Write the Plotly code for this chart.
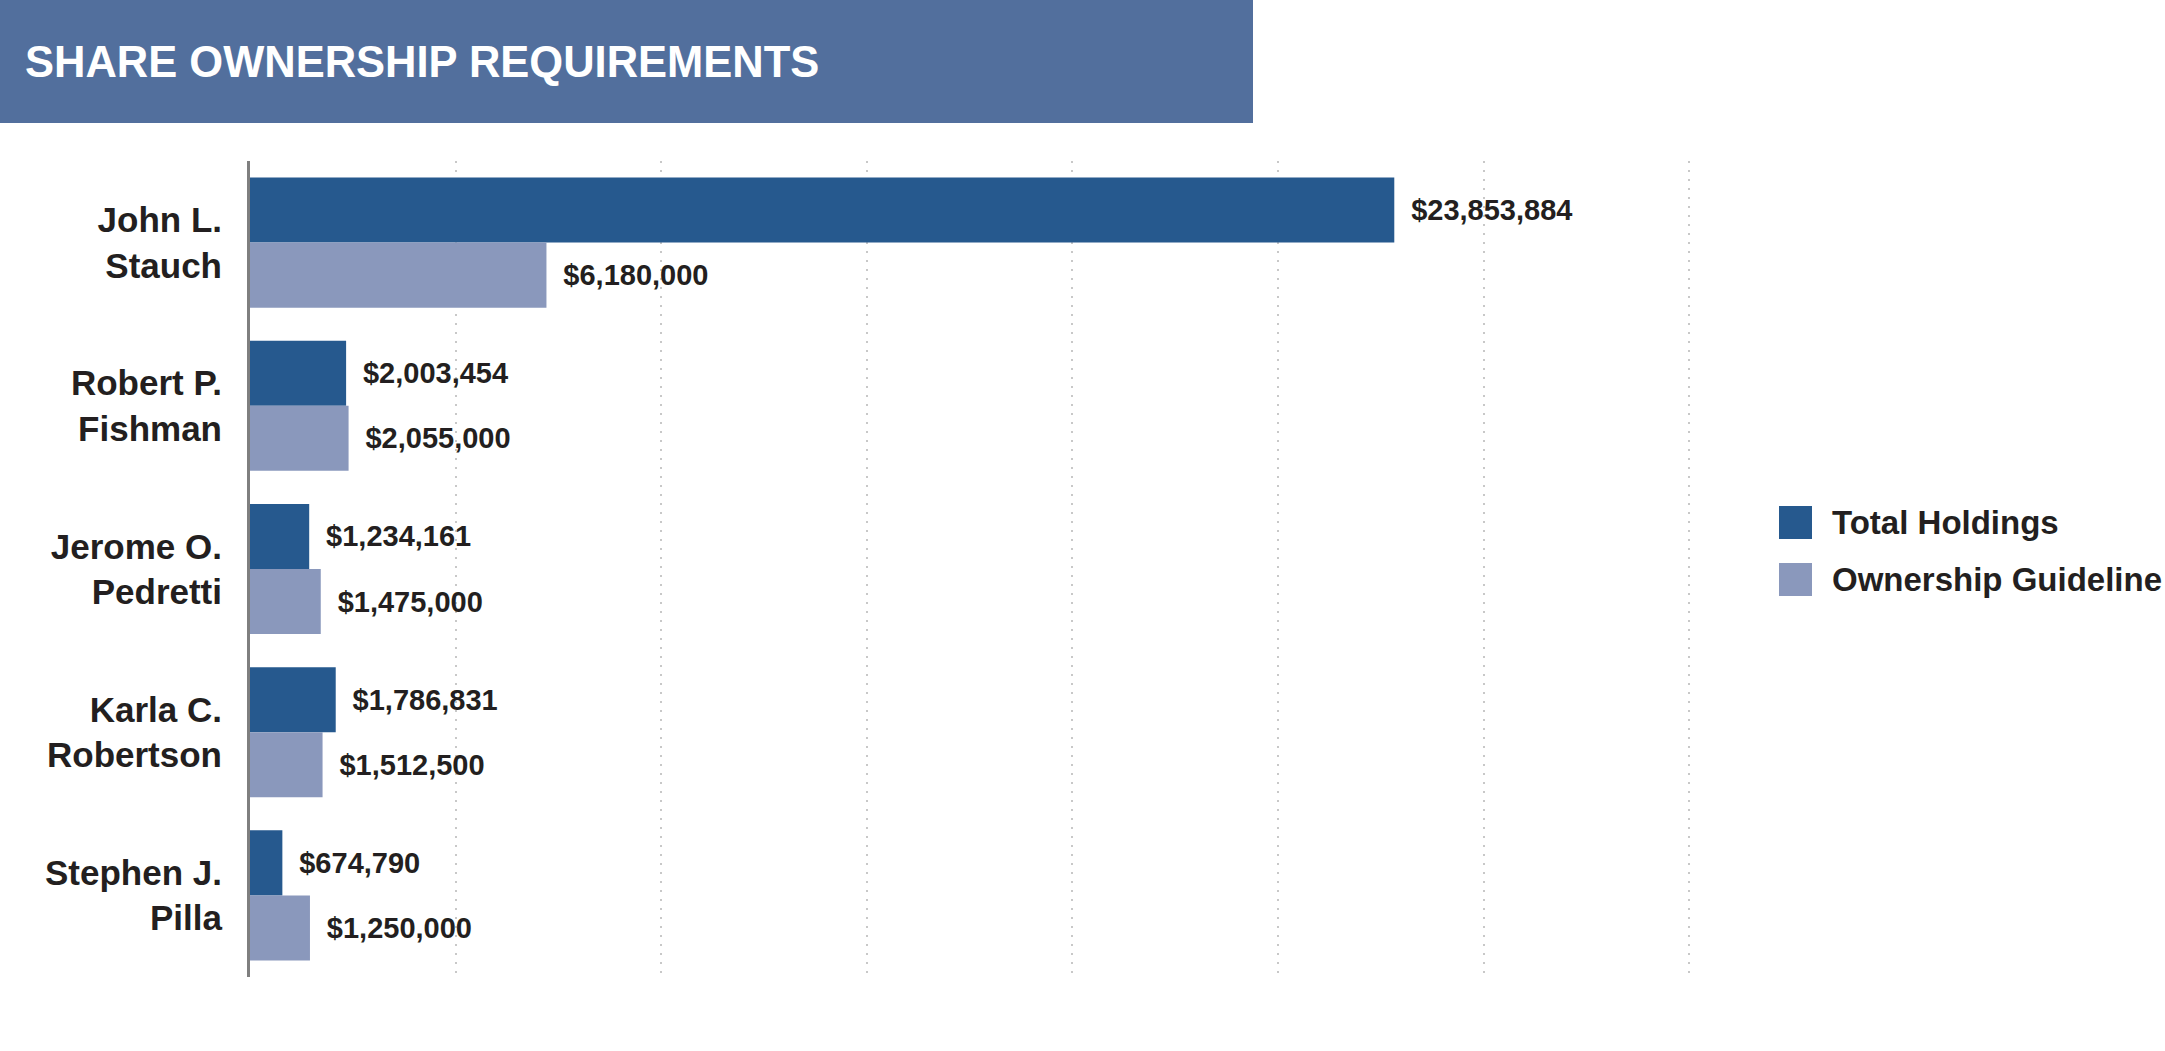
import plotly.graph_objects as go

# ---- data ----
executives = ["John L.<br>Stauch", "Robert P.<br>Fishman", "Jerome O.<br>Pedretti",
              "Karla C.<br>Robertson", "Stephen J.<br>Pilla"]
total_holdings = [23853884, 2003454, 1234161, 1786831, 674790]
ownership_guideline = [6180000, 2055000, 1475000, 1512500, 1250000]
series_names = ["Total Holdings", "Ownership Guideline"]
title_text = "SHARE OWNERSHIP REQUIREMENTS"
x_max = 30000000
n_grid = 7

# ---- style ----
DARK = "#26598E"
LIGHT = "#8A98BC"
BANNER = "#526F9D"
TXT = "#231F20"
FONT = "Liberation Sans, Arial, sans-serif"

W, H = 2165, 1051
L, T, B = 250, 161, 74
PLOT_RIGHT = 1689
PH = H - T - B
x_hi = x_max * 1.002
PW = (PLOT_RIGHT - L) * 1.002
R = W - L - int(round(PW))
PW = W - L - R


def px_x(px):
    return (px - L) / PW


def px_y(py):
    return (H - B - py) / PH


fig = go.Figure()
for name, vals, col in [(series_names[0], total_holdings, DARK),
                        (series_names[1], ownership_guideline, LIGHT)]:
    fig.add_trace(go.Bar(
        y=executives, x=vals, name=name, orientation="h",
        marker=dict(color=col, line=dict(width=0)),
        texttemplate="\u00a0\u2009<b>%{x:$,.0f}</b>", textposition="outside",
        outsidetextfont=dict(family=FONT, size=29, color=TXT),
        constraintext="none", cliponaxis=False,
        showlegend=False, hoverinfo="skip",
    ))

shapes = [
    # title banner
    dict(type="rect", xref="paper", yref="paper",
         x0=px_x(0), x1=px_x(1253), y0=px_y(123), y1=px_y(0),
         fillcolor=BANNER, line=dict(width=0), layer="above"),
    # legend swatches
    dict(type="rect", xref="paper", yref="paper",
         x0=px_x(1779), x1=px_x(1812), y0=px_y(539), y1=px_y(506),
         fillcolor=DARK, line=dict(width=0)),
    dict(type="rect", xref="paper", yref="paper",
         x0=px_x(1779), x1=px_x(1812), y0=px_y(596), y1=px_y(563),
         fillcolor=LIGHT, line=dict(width=0)),
]

annotations = [
    dict(text="<b>" + title_text + "</b>", xref="paper", yref="paper",
         x=px_x(23), y=px_y(62), xanchor="left", yanchor="middle",
         showarrow=False, font=dict(family=FONT, size=43.5, color="white")),
    dict(text="<b>" + series_names[0] + "</b>", xref="paper", yref="paper",
         x=px_x(1830), y=px_y(522), xanchor="left", yanchor="middle",
         showarrow=False, font=dict(family=FONT, size=33, color=TXT)),
    dict(text="<b>" + series_names[1] + "</b>", xref="paper", yref="paper",
         x=px_x(1830), y=px_y(579), xanchor="left", yanchor="middle",
         showarrow=False, font=dict(family=FONT, size=33, color=TXT)),
]

fig.update_layout(
    width=W, height=H,
    margin=dict(l=L, r=R, t=T, b=B, pad=0),
    paper_bgcolor="white", plot_bgcolor="white",
    barmode="group", bargap=0.203, bargroupgap=0,
    shapes=shapes, annotations=annotations,
    font=dict(family=FONT, color=TXT),
    hovermode=False,
    xaxis=dict(range=[0, x_hi], tickvals=[i * x_max / n_grid for i in range(n_grid + 1)],
               showticklabels=False, showgrid=True, gridcolor="#C8C8C8",
               griddash="2px,7px", gridwidth=2, zeroline=False, showline=False,
               fixedrange=True),
    yaxis=dict(autorange="reversed", showline=True, linecolor="#7F7F7F", linewidth=3,
               ticks="", ticklabelstandoff=18,
               tickfont=dict(family=FONT, size=35, color=TXT),
               showgrid=False, zeroline=False, fixedrange=True),
)

# bold tick labels
fig.update_yaxes(ticktext=["<b>" + e + "</b>" for e in executives], tickvals=executives)

fig.write_html("out.html", config={"displayModeBar": False},
               post_script="document.body.style.margin='0';")
